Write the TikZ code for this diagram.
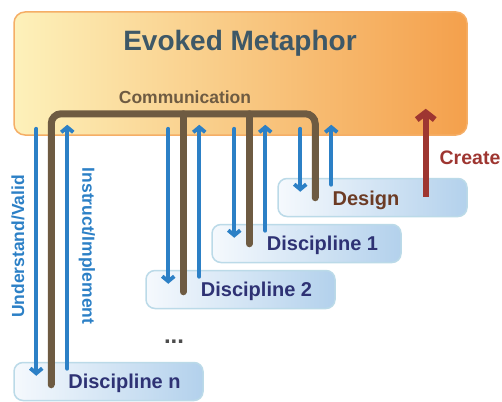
\documentclass[tikz,border=0pt]{standalone}
\usepackage{fontspec}
\setmainfont{Liberation Sans}
\usetikzlibrary{arrows.meta,calc,positioning}
\definecolor{metaleft}{HTML}{FDF1BA}
\definecolor{metaright}{HTML}{F4A04C}
\definecolor{metaline}{HTML}{F5AE66}
\definecolor{discleft}{HTML}{F5F9FD}
\definecolor{discright}{HTML}{B3D1EC}
\definecolor{discline}{HTML}{BBDAE8}
\definecolor{flowblue}{HTML}{2C80C6}
\definecolor{busbrown}{HTML}{6E5B42}
\definecolor{titleslate}{HTML}{3E5867}
\definecolor{discnavy}{HTML}{2E3274}
\definecolor{designbrown}{HTML}{6C3B24}
\definecolor{createred}{HTML}{9E3631}
\tikzset{
    metabox/.style={
           rectangle,
           rounded corners=11pt,
           draw=metaline,
           line width=1.5pt,
           left color=metaleft,
           right color=metaright,
           minimum width=453pt,
           minimum height=123pt,
           inner sep=0pt,
           },
    discbox/.style={
           rectangle,
           rounded corners=9pt,
           draw=discline,
           line width=1.5pt,
           left color=discleft,
           right color=discright,
           minimum width=189pt,
           minimum height=38pt,
           inner sep=0pt,
           },
}

\begin{document}
\begin{tikzpicture}[
  x=1pt,y=1pt,
  node distance=46pt,
  flow/.style={draw=flowblue,line width=3.8pt,line cap=round,-{Straight Barb[length=5pt,width=12pt]}},
  bus/.style={draw=busbrown,line width=7pt,line cap=round,rounded corners=10pt},
  create/.style={draw=createred,line width=6pt,-{Straight Barb[length=7pt,width=18pt]}},
  disctext/.style={text=discnavy,font=\fontsize{20}{22}\selectfont\bfseries},
  sidetext/.style={text=flowblue,font=\fontsize{17.5}{20}\selectfont\bfseries}]
\useasboundingbox (0,0) rectangle (502,-401);
\node[metabox](metaphor) at (240.5,-73.5) {};
\node[text=titleslate,font=\fontsize{28}{32}\selectfont\bfseries](title) at (240,-43) {Evoked Metaphor};
\node[text=busbrown,font=\fontsize{17.5}{20}\selectfont\bfseries](comm) at (185,-97) {Communication};
\node[discbox](ds) at (372.5,-197.5) {};
\node[discbox,below of=ds,xshift=-66pt](d1) {};
\node[discbox,below of=d1,xshift=-66pt](d2) {};
\node[discbox,below of=d2,node distance=92pt,xshift=-132pt](dn) {};
\node[disctext,text=designbrown](design) at ([xshift=-6.5pt,yshift=-2.5pt]ds.center) {Design};
\node[disctext](disc1) at ([xshift=16pt,yshift=-1.5pt]d1.center) {Discipline 1};
\node[disctext](disc2) at ([xshift=16pt,yshift=-1.5pt]d2.center) {Discipline 2};
\node[disctext](discn) at ([xshift=16pt,yshift=-1.5pt]dn.center) {Discipline n};
\node[text=black!70,font=\fontsize{24}{26}\selectfont\bfseries](dots) at (174,-342) {...};
\node[sidetext,rotate=90](understand) at (18,-246.5) {Understand/Valid};
\node[sidetext,rotate=-90](instruct) at (87,-246) {Instruct/Implement};
\node[text=createred,font=\fontsize{19.5}{22}\selectfont\bfseries](createlbl) at (470,-158) {Create};

% down, bus and up lanes of each discipline
\foreach \b in {dn,d2,d1,ds}{
  \coordinate (\b-down) at ($(\b.north west)+(23,0)$);
  \coordinate (\b-bus) at ($(\b.north west)+(38,0)$);
  \coordinate (\b-up) at ($(\b.north west)+(54,0)$);
  \draw[flow] ($(metaphor.south -| \b-down)+(0,7)$) -- ($(\b-down)+(0,-14)$);
  \draw[flow] ($(\b-up)+(0,-7)$) -- ($(metaphor.south -| \b-up)+(0,11)$);
}
\coordinate (busline) at ($(metaphor.south)+(0,22)$);
\draw[bus] ($(dn-bus)+(0,-23)$) -- (dn-bus |- busline) -- (ds-bus |- busline) -- ($(ds-bus)+(0,-20)$);
\draw[bus] (d2-bus |- busline) -- ($(d2-bus)+(0,-22)$);
\draw[bus] (d1-bus |- busline) -- ($(d1-bus)+(0,-20)$);
\coordinate (createfoot) at ($(ds.north east)+(-42,-19)$);
\draw[create] (createfoot) -- ($(metaphor.south -| createfoot)+(0,27)$);
\end{tikzpicture}
\end{document}
